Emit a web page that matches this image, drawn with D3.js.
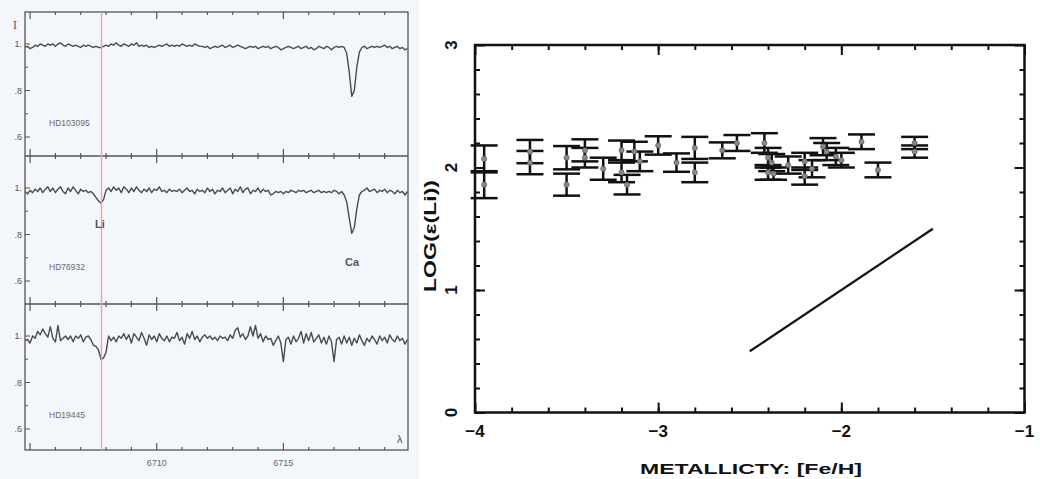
<!DOCTYPE html>
<html>
<head>
<meta charset="utf-8">
<script src="https://cdn.jsdelivr.net/npm/d3@7"></script>
<style>
  body { margin: 0; background: #fff; }
  svg { display: block; }
</style>
</head>
<body>
<svg id="chart" width="1040" height="479"></svg>
<script>
// ---- left figure: three Li 6708 spectra (flux sampled every 0.1 A from 6704.8) ----
const specStart = 6704.8;
const specStep = 0.1;
const specNames = ["HD103095", "HD76932", "HD19445"];

const fluxHD103095 = [
  0.985, 0.99, 0.98, 0.985, 0.995, 0.99, 1.0, 0.995, 0.99, 1.0,
  0.995, 1.0, 0.99, 1.0, 1.005, 0.995, 0.99, 1.0, 0.995, 0.99,
  0.995, 0.99, 0.985, 0.995, 0.99, 0.995, 0.99, 0.985, 0.99, 0.985,
  0.985, 0.99, 0.995, 0.99, 1.0, 0.995, 1.005, 0.995, 0.99, 1.0,
  0.995, 0.99, 1.0, 0.995, 1.005, 0.99, 0.995, 0.99, 0.995, 0.985,
  0.99, 0.985, 0.99, 0.995, 0.99, 0.995, 1.0, 0.99, 0.995, 0.99,
  0.995, 0.99, 1.0, 0.995, 0.99, 0.995, 0.99, 1.0, 0.995, 0.99,
  0.99, 0.985, 0.99, 0.98, 0.985, 0.99, 0.985, 0.99, 0.995, 0.985,
  0.99, 0.995, 0.985, 0.99, 0.995, 0.99, 0.985, 0.98, 0.985, 0.99,
  0.985, 0.99, 0.98, 0.985, 0.99, 0.985, 0.99, 0.98, 0.985, 0.99,
  0.985, 0.975, 0.98, 0.985, 0.99, 0.985, 0.98, 0.985, 0.99, 0.98,
  0.985, 0.99, 0.98, 0.985, 0.975, 0.98, 0.99, 0.985, 0.98, 0.99,
  0.985, 0.975, 0.985, 0.99, 0.985, 0.99, 0.985, 0.96, 0.88, 0.775,
  0.8, 0.9, 0.965, 0.985, 0.99, 0.98, 0.985, 0.99, 0.985, 0.99,
  0.985, 0.99, 0.995, 0.985, 0.99, 0.98, 0.985, 0.99, 0.98, 0.985, 0.975, 0.98
];

const fluxHD76932 = [
  0.985, 0.975, 0.99, 0.98, 0.995, 0.985, 1.0, 0.98, 0.995, 1.005,
  0.985, 1.0, 0.98, 0.995, 1.005, 0.985, 0.975, 1.0, 0.985, 1.005,
  0.99, 0.975, 0.995, 0.985, 0.99, 0.98, 0.985, 0.975, 0.96, 0.945,
  0.935, 0.95, 0.99, 1.0, 0.985, 1.005, 0.99, 1.0, 0.98, 1.005,
  0.995, 0.98, 1.0, 0.985, 1.005, 0.99, 0.98, 0.995, 0.985, 1.0,
  0.98, 0.995, 0.99, 1.005, 0.985, 0.99, 0.98, 0.995, 0.985, 0.99,
  0.985, 0.995, 0.98, 0.99, 1.0, 0.985, 0.99, 0.975, 0.995, 0.985,
  0.99, 0.98, 1.0, 0.985, 0.995, 0.975, 0.99, 0.985, 1.0, 0.98,
  0.99, 1.0, 0.975, 0.995, 0.985, 1.005, 0.98, 0.995, 1.0, 0.975,
  0.99, 0.985, 1.0, 0.98, 0.995, 0.985, 0.99, 0.97, 0.975, 0.985,
  0.98, 0.985, 0.975, 0.985, 0.98, 0.99, 0.985, 0.98, 0.99, 0.985,
  0.99, 0.98, 0.985, 0.99, 0.98, 0.985, 0.99, 0.98, 0.985, 0.98,
  0.985, 0.98, 0.99, 0.985, 0.975, 0.985, 0.97, 0.94, 0.87, 0.805,
  0.83, 0.91, 0.97, 0.985, 0.99, 1.0, 0.985, 0.99, 0.995, 0.98,
  0.99, 0.985, 0.995, 0.98, 0.99, 0.985, 0.975, 0.99, 0.98, 0.985, 0.97, 0.985
];

const fluxHD19445 = [
  0.98, 0.985, 0.97, 1.0, 0.99, 1.02, 1.005, 1.03, 1.01, 0.995,
  1.04, 0.99, 0.975, 1.045, 0.98, 0.99, 1.0, 0.985, 1.0, 0.975,
  1.0, 0.99, 1.005, 0.975, 0.995, 1.0, 0.985, 0.96, 0.955, 0.94,
  0.9, 0.905, 0.93, 1.0, 0.98, 0.995, 0.975, 1.0, 0.99, 1.01,
  0.985, 1.005, 0.97, 1.01, 0.995, 0.98, 1.015, 0.99, 0.96, 1.005,
  0.985, 1.0, 0.975, 1.01, 0.99, 0.98, 1.0, 0.975, 0.995, 0.99,
  1.015, 0.98, 0.995, 0.965, 1.01, 0.99, 1.02, 0.985, 1.0, 0.975,
  0.995, 1.005, 0.99, 1.0, 0.985, 0.995, 0.98, 1.0, 0.99, 0.995,
  0.98, 1.005, 0.99, 1.025, 1.035, 0.995, 1.01, 0.985, 1.0, 1.04,
  1.0, 1.045, 0.99, 1.01, 0.975, 1.0, 0.985, 0.99, 0.96, 0.98,
  1.0, 0.97, 0.89, 0.985, 0.995, 0.965, 1.0, 0.975, 0.99, 1.02,
  0.97, 1.01, 0.98, 1.015, 0.975, 0.99, 1.005, 0.97, 0.995, 0.965,
  1.0, 0.975, 0.89, 0.985, 0.995, 0.965, 1.0, 0.97, 0.995, 0.96,
  0.99, 0.97, 1.005, 0.98, 0.96, 0.99, 0.975, 1.0, 0.985, 0.965,
  1.0, 0.98, 0.995, 0.97, 1.005, 0.985, 0.975, 1.0, 0.98, 0.99, 0.965, 0.985
];

const liWavelength = 6707.82;
const specYTicks = [0.6, 0.7, 0.8, 0.9, 1.0];
const specYLabels = [".6", "", ".8", "", "1."];
const specXMajor = [6705, 6710, 6715];
const specXLabels = [6710, 6715];

// ---- right figure: Li abundance vs metallicity ----
const feh = [-3.95, -3.95, -3.70, -3.70, -3.50, -3.50, -3.40, -3.40, -3.30, -3.20,
             -3.20, -3.17, -3.13, -3.10, -3.00, -2.90, -2.80, -2.80, -2.65, -2.57,
             -2.42, -2.40, -2.38, -2.40, -2.37, -2.29, -2.20, -2.20, -2.16, -2.10,
             -2.08, -2.03, -2.00, -1.89, -1.80, -1.60, -1.60];
const logLi = [2.07, 1.86, 2.13, 2.04, 2.08, 1.86, 2.14, 2.08, 1.99, 2.14,
               1.96, 1.86, 2.13, 2.05, 2.18, 2.04, 2.16, 1.96, 2.14, 2.20,
               2.20, 2.08, 2.04, 1.96, 1.95, 2.02, 2.05, 1.93, 1.99, 2.17,
               2.13, 2.09, 2.06, 2.21, 1.98, 2.20, 2.13];
const logLiErr = [0.11, 0.11, 0.095, 0.095, 0.095, 0.09, 0.09, 0.08, 0.09, 0.08,
                  0.08, 0.08, 0.08, 0.08, 0.075, 0.075, 0.09, 0.08, 0.065, 0.065,
                  0.08, 0.08, 0.07, 0.06, 0.05, 0.07, 0.07, 0.07, 0.07, 0.07,
                  0.07, 0.07, 0.06, 0.06, 0.06, 0.05, 0.05];
const trendFeh = [-2.5, -1.5];
const trendLi = [0.5, 1.5];
const xTickValues = [-4, -3, -2, -1];
const yTickValues = [0, 1, 2, 3];

const svg = d3.select("#chart");

/*
 * Left: scanned-looking spectra
 */
svg.append("rect").attr("x", 0).attr("y", 0).attr("width", 419).attr("height", 479)
  .attr("fill", "#f3f7fb");

const frameL = 25, frameR = 408;
const panelTops = [12, 156, 304];
const panelBottoms = [156, 304, 450];
const fluxSets = [fluxHD103095, fluxHD76932, fluxHD19445];

const xs = d3.scaleLinear().domain([6704.8, 6719.92]).range([frameL, frameR]);
const specLine = d3.line();

const left = svg.append("g").attr("font-family", "'Liberation Sans', Arial, sans-serif");

panelTops.forEach((top, p) => {
  const ys = d3.scaleLinear().domain([0.6, 1.0]).range([top + 125, top + 32]);
  const bottom = panelBottoms[p];

  // axis ticks on the left edge
  left.selectAll(null).data(specYTicks).enter().append("line")
    .attr("x1", frameL).attr("x2", (d, i) => frameL + (i % 2 === 0 ? 5 : 3))
    .attr("y1", d => ys(d)).attr("y2", d => ys(d))
    .attr("stroke", "#555").attr("stroke-width", 1);
  left.selectAll(null).data(specYTicks).enter().append("text")
    .attr("x", 22).attr("y", d => ys(d) + 3)
    .attr("text-anchor", "end").attr("font-size", 9).attr("fill", "#555")
    .text((d, i) => specYLabels[i]);

  // wavelength ticks on top and bottom of each panel
  const waveTicks = d3.range(6705, 6720, 1);
  [top, bottom].forEach((edge, k) => {
    const dir = k === 0 ? 1 : -1;
    left.selectAll(null).data(waveTicks).enter().append("line")
      .attr("x1", d => xs(d)).attr("x2", d => xs(d))
      .attr("y1", edge)
      .attr("y2", d => edge + dir * (specXMajor.includes(d) ? 7 : 3))
      .attr("stroke", "#555").attr("stroke-width", 1.2);
  });

  const pts = fluxSets[p].map((f, i) => [xs(specStart + i * specStep), ys(f)]);
  left.append("path").attr("d", specLine(pts))
    .attr("fill", "none").attr("stroke", "#4a4a4a").attr("stroke-width", 1.4)
    .attr("stroke-linejoin", "round");

  left.append("text").attr("x", 49).attr("y", top + 114)
    .attr("font-size", 8.5).attr("fill", "#6a6a6a").text(specNames[p]);
});

// frame and panel dividers
left.append("rect").attr("x", frameL).attr("y", panelTops[0])
  .attr("width", frameR - frameL).attr("height", panelBottoms[2] - panelTops[0])
  .attr("fill", "none").attr("stroke", "#555").attr("stroke-width", 1.3);
[panelBottoms[0], panelBottoms[1]].forEach(yy => {
  left.append("line").attr("x1", frameL).attr("x2", frameR).attr("y1", yy).attr("y2", yy)
    .attr("stroke", "#555").attr("stroke-width", 1.3);
});

// Li 6707.8 marker
left.append("line").attr("x1", xs(liWavelength)).attr("x2", xs(liWavelength))
  .attr("y1", panelTops[0]).attr("y2", panelBottoms[2])
  .attr("stroke", "#f2a493").attr("stroke-width", 1.4);

left.append("text").attr("x", 95).attr("y", 228).attr("font-size", 11)
  .attr("font-weight", "bold").attr("fill", "#555").text("Li");
left.append("text").attr("x", 345).attr("y", 266).attr("font-size", 11)
  .attr("font-weight", "bold").attr("fill", "#555").text("Ca");
left.append("text").attr("x", 397).attr("y", 443).attr("font-size", 11)
  .attr("fill", "#555").text("λ");
left.append("text").attr("x", 15).attr("y", 29).attr("font-size", 11)
  .attr("text-anchor", "middle").attr("font-family", "'DejaVu Serif', serif")
  .attr("fill", "#555").text("I");
left.selectAll(null).data(specXLabels).enter().append("text")
  .attr("x", d => xs(d)).attr("y", 466).attr("text-anchor", "middle")
  .attr("font-size", 9).attr("fill", "#666").text(d => d);

/*
 * Right: log eps(Li) vs [Fe/H]
 */
const x = d3.scaleLinear().domain([-4, -1]).range([475, 1024.5]);
const y = d3.scaleLinear().domain([0, 3]).range([412.5, 45]);

const right = svg.append("g").attr("font-family", "'Liberation Sans', Arial, sans-serif");

const xMinor = d3.range(-3.8, -1.01, 0.2);
const yMinor = d3.range(0.2, 2.91, 0.2);

function tickAxis(axis, minor, values, offset) {
  const g = right.append("g").attr("transform", offset);
  g.call(axis.tickValues(minor).tickSize(-5).tickFormat(""));
  g.select(".domain").remove();
  g.selectAll("line").attr("stroke", "#111").attr("stroke-width", 2);
  const gm = right.append("g").attr("transform", offset);
  gm.call(axis.tickValues(values).tickSize(-10).tickFormat(""));
  gm.select(".domain").remove();
  gm.selectAll("line").attr("stroke", "#111").attr("stroke-width", 2);
}
tickAxis(d3.axisBottom(x), xMinor, xTickValues, `translate(0,${y(0)})`);
tickAxis(d3.axisTop(x), xMinor, xTickValues, `translate(0,${y(3)})`);
tickAxis(d3.axisLeft(y), yMinor, yTickValues, `translate(${x(-4)},0)`);
tickAxis(d3.axisRight(y), yMinor, yTickValues, `translate(${x(-1)},0)`);

right.append("rect").attr("x", x(-4)).attr("y", y(3))
  .attr("width", x(-1) - x(-4)).attr("height", y(0) - y(3))
  .attr("fill", "none").attr("stroke", "#111").attr("stroke-width", 2.5);

// tick labels
right.selectAll(null).data(xTickValues).enter().append("text")
  .attr("x", d => x(d)).attr("y", 437).attr("text-anchor", "middle")
  .attr("font-size", 17).attr("font-weight", "bold").attr("fill", "#111")
  .text(d => d3.format("d")(d).replace("-", "\u2212"));
right.selectAll(null).data(yTickValues).enter().append("text")
  .attr("transform", d => `translate(457,${y(d)}) rotate(-90)`)
  .attr("text-anchor", "middle").attr("font-size", 17).attr("font-weight", "bold")
  .attr("fill", "#111").text(d => d);

right.append("text").attr("transform", "translate(436,236) rotate(-90)")
  .attr("text-anchor", "middle").attr("font-size", 16).attr("font-weight", "bold")
  .attr("fill", "#111").attr("textLength", 112).attr("lengthAdjust", "spacingAndGlyphs")
  .text("LOG(\u03b5(Li))");
right.append("text").attr("x", 751).attr("y", 474).attr("text-anchor", "middle")
  .attr("font-size", 15).attr("font-weight", "bold").attr("fill", "#111")
  .attr("textLength", 222).attr("lengthAdjust", "spacingAndGlyphs")
  .text("METALLICTY: [Fe/H]");

// error bars
const stars = feh.map((f, i) => ({ f: f, v: logLi[i], e: logLiErr[i] }));
const capHalf = 13.5;
const bars = right.append("g").attr("stroke", "#111").attr("stroke-width", 2.5);
bars.selectAll(".stem").data(stars).enter().append("line")
  .attr("x1", d => x(d.f)).attr("x2", d => x(d.f))
  .attr("y1", d => y(d.v - d.e)).attr("y2", d => y(d.v + d.e));
bars.selectAll(".capTop").data(stars).enter().append("line")
  .attr("x1", d => x(d.f) - capHalf).attr("x2", d => x(d.f) + capHalf)
  .attr("y1", d => y(d.v + d.e)).attr("y2", d => y(d.v + d.e));
bars.selectAll(".capBot").data(stars).enter().append("line")
  .attr("x1", d => x(d.f) - capHalf).attr("x2", d => x(d.f) + capHalf)
  .attr("y1", d => y(d.v - d.e)).attr("y2", d => y(d.v - d.e));
right.selectAll(".dot").data(stars).enter().append("circle")
  .attr("cx", d => x(d.f)).attr("cy", d => y(d.v)).attr("r", 2.6)
  .attr("fill", "#888").attr("stroke", "#555").attr("stroke-width", 0.6);

// expected Li growth line
const trend = trendFeh.map((f, i) => [x(f), y(trendLi[i])]);
right.append("path").attr("d", d3.line()(trend))
  .attr("fill", "none").attr("stroke", "#111").attr("stroke-width", 2.2);
</script>
</body>
</html>
